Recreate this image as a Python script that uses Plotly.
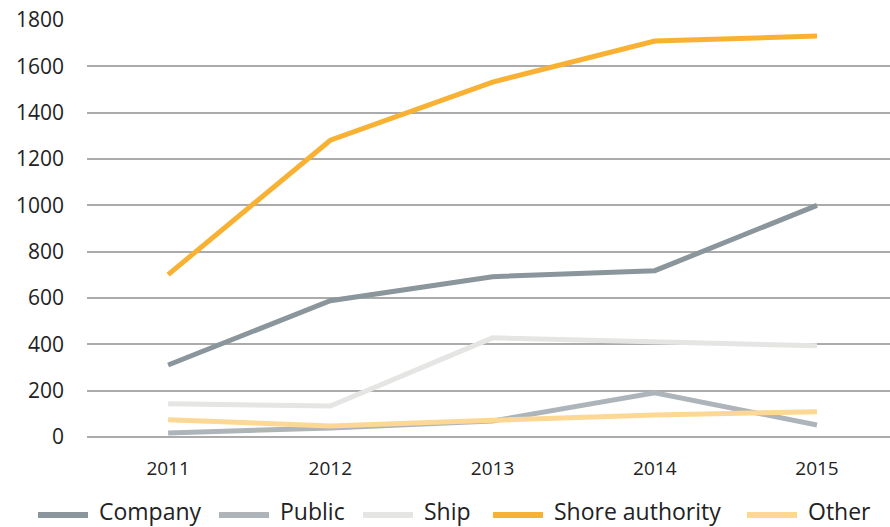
import plotly.graph_objects as go

years = ["2011", "2012", "2013", "2014", "2015"]
company = [311, 588, 692, 718, 1000]
public = [17, 39, 69, 191, 52]
ship = [143, 134, 428, 410, 394]
shore = [701, 1281, 1532, 1709, 1731]
other = [74, 48, 72, 95, 109]

series = [
    ("Company", company, "#8a969c"),
    ("Public", public, "#adb5bb"),
    ("Ship", ship, "#e5e5e3"),
    ("Shore authority", shore, "#f8b133"),
    ("Other", other, "#fdd894"),
]

W, H = 890, 527
L, R, T, B = 87, 0, 20, 90
pw, ph = W - L - R, H - T - B

fig = go.Figure()
for name, vals, col in series:
    fig.add_trace(go.Scatter(x=years, y=vals, name=name, mode="lines",
                             line=dict(color=col, width=5), showlegend=False))

# custom legend (pixel layout)
legend_x = [38, 219, 363, 493, 747]
for (name, vals, col), lx in zip(series, legend_x):
    y_line = (H - B - 515) / ph
    fig.add_shape(type="line", xref="paper", yref="paper",
                  x0=(lx - L) / pw, x1=(lx + 50 - L) / pw, y0=y_line, y1=y_line,
                  line=dict(color=col, width=6))
    fig.add_annotation(xref="paper", yref="paper", x=(lx + 60 - L) / pw,
                       y=(H - B - 511) / ph, text=name, showarrow=False,
                       xanchor="left", yanchor="middle", borderpad=0,
                       font=dict(size=23, family="Open Sans, sans-serif", color="#222222"))

fig.update_layout(
    width=W, height=H,
    margin=dict(l=L, r=R, t=T, b=B, autoexpand=False),
    paper_bgcolor="white", plot_bgcolor="white",
    font=dict(family="Open Sans, sans-serif", color="#222222", size=19),
    showlegend=False,
    xaxis=dict(type="category", range=[-0.5, 4.45], showgrid=False, showline=False,
               ticks="", ticklabelstandoff=18, tickfont=dict(size=19)),
    yaxis=dict(range=[0, 1800], tickvals=[0, 200, 400, 600, 800, 1000, 1200, 1400, 1600, 1800],
               showgrid=True, gridcolor="#ababab", gridwidth=1.5, zeroline=True,
               zerolinecolor="#ababab", zerolinewidth=1.5, showline=False,
               ticks="", ticklabelstandoff=22, tickfont=dict(size=21)),
)

fig.write_html("out.html", config={"displayModeBar": False},
               post_script="document.body.style.margin='0';")
